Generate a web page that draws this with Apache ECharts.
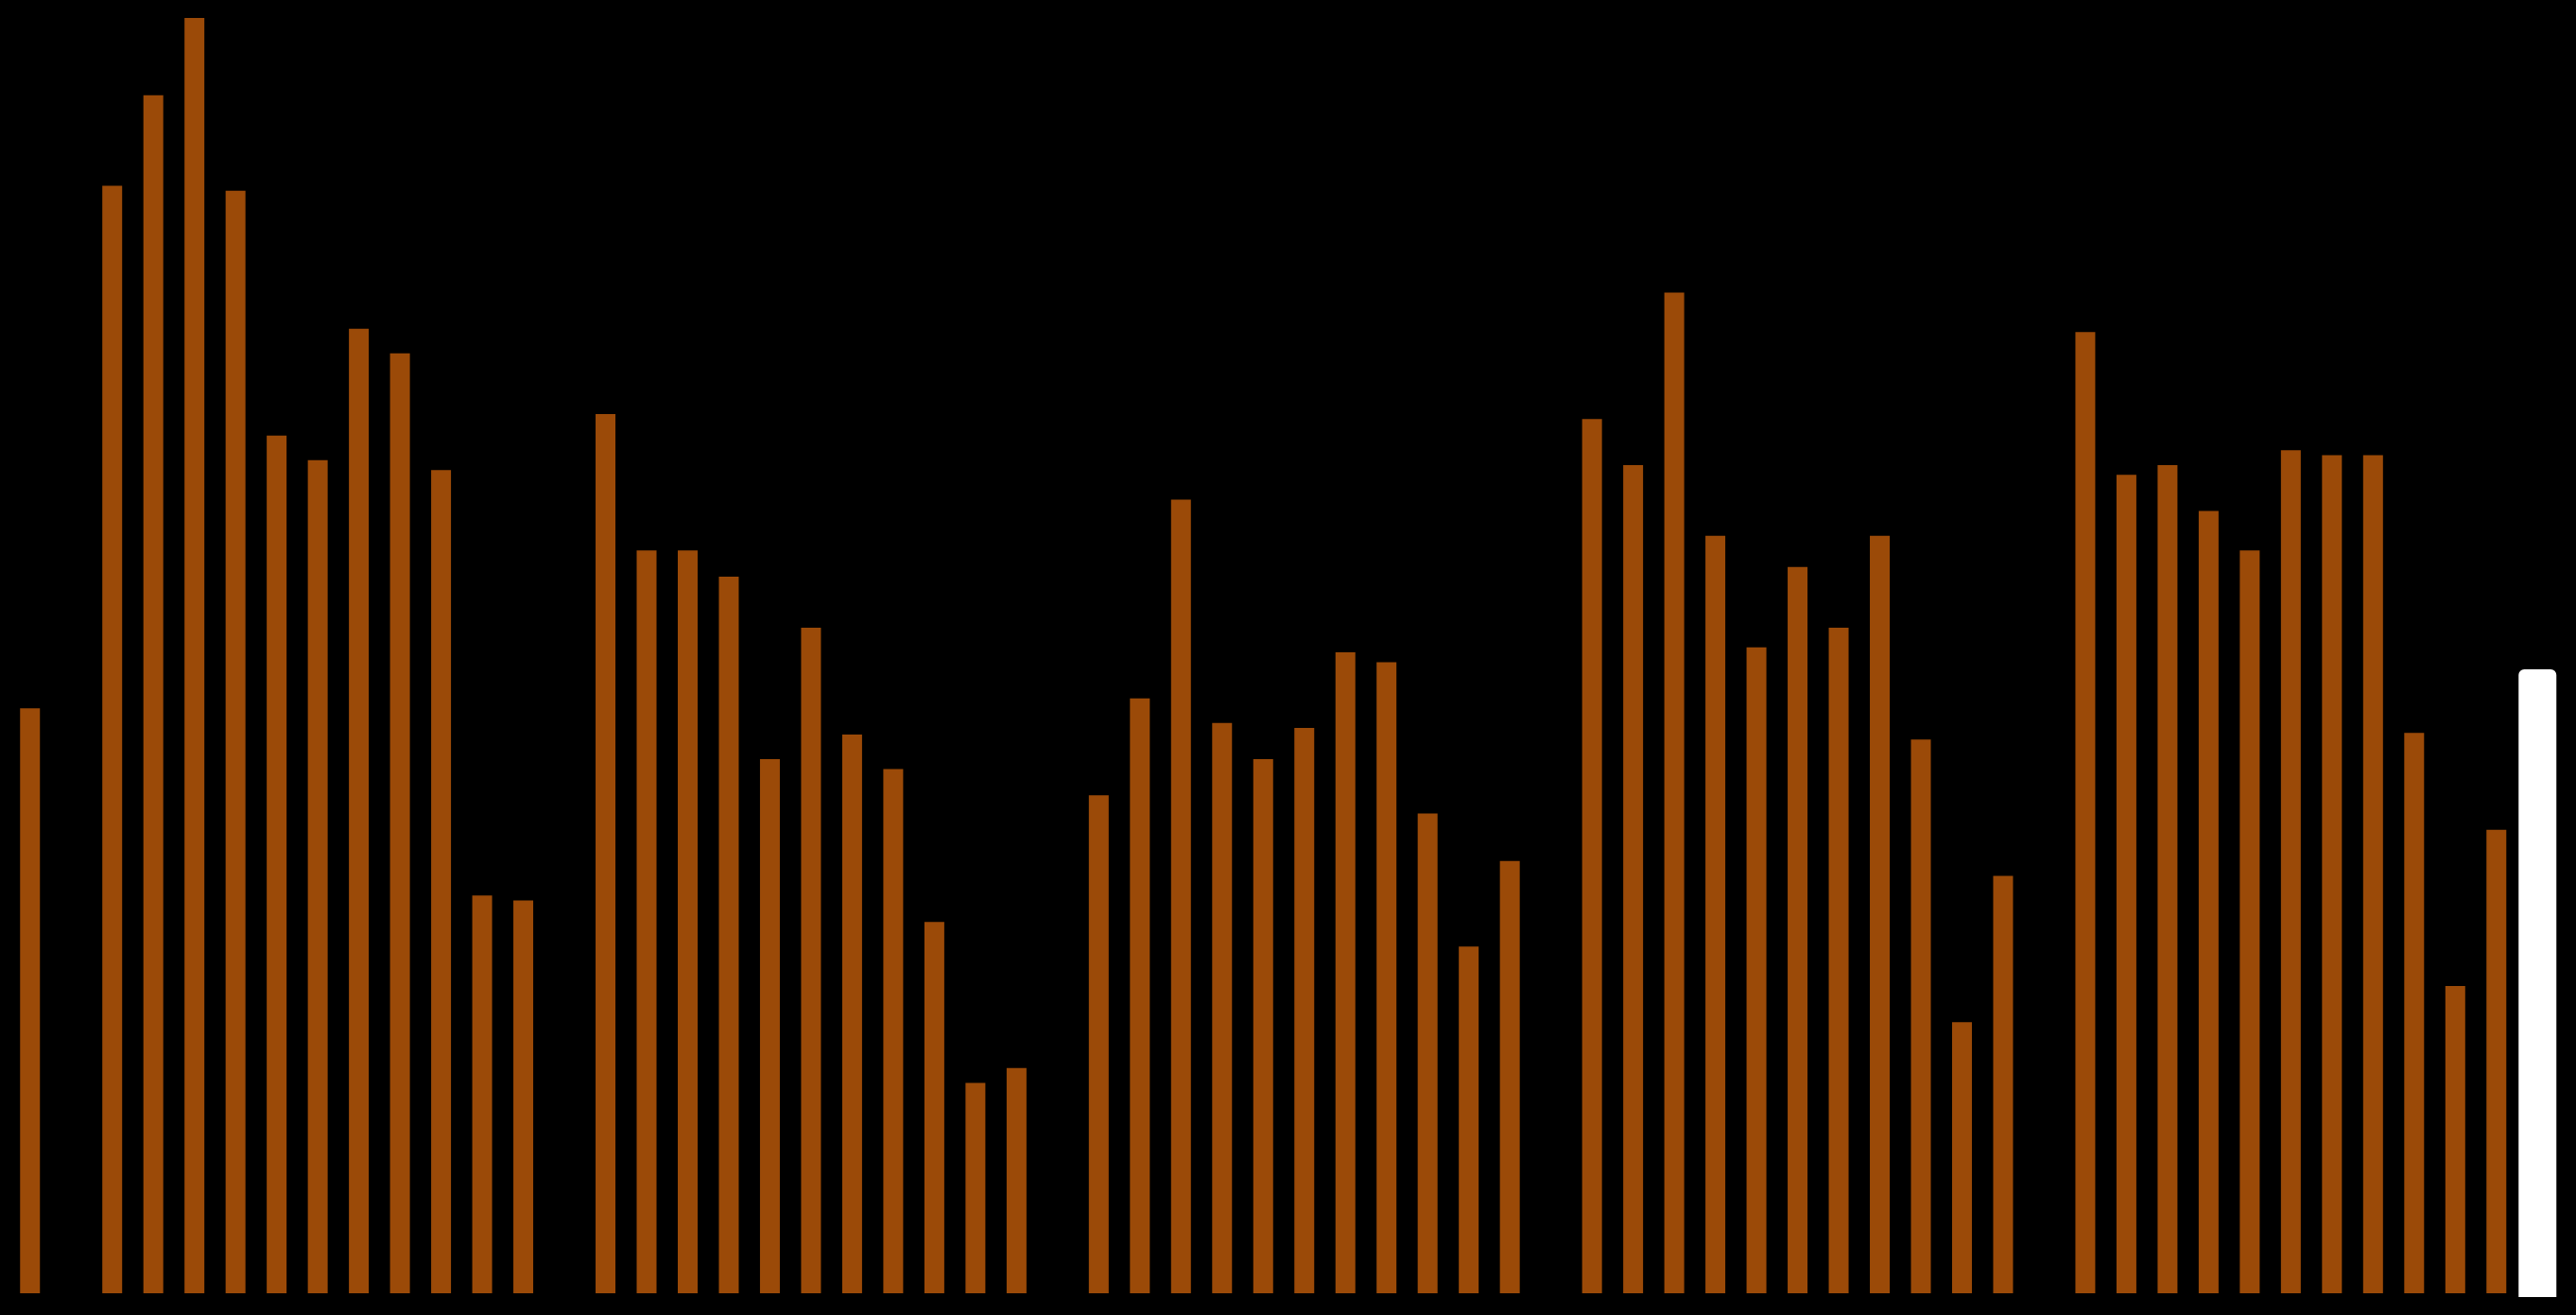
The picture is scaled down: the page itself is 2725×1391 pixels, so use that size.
<!DOCTYPE html>
<html><head><meta charset="utf-8">
<script src="https://cdn.jsdelivr.net/npm/echarts@6/dist/echarts.min.js"></script>
<style>html,body{margin:0;padding:0;background:#000;}#c{width:2725px;height:1391px;}</style>
</head><body><div id="c"></div>
<script>
const categories = Array.from({length: 62}, (_, i) => 'P' + (i + 1));
const mainValues = [
  356, null, 674, 729, 776, 671, 522, 507, 587, 572, 501, 242, 239,
  null, 535, 452, 452, 436, 325, 405, 340, 319, 226, 128, 137,
  null, 303, 362, 483, 347, 325, 344, 390, 384, 292, 211, 263,
  null, 532, 504, 609, 461, 393, 442, 405, 461, 337, 165, 254,
  null, 585, 498, 504, 476, 452, 513, 510, 510, 341, 187, 282, null
];
const highlightValues = categories.map((_, i) => i === 61 ? 382 : null);

const chart = echarts.init(document.getElementById('c'));
chart.setOption({
  backgroundColor: '#000000',
  animation: false,
  grid: [
    {left: 10, right: 19, top: 0, bottom: 23},
    {left: 10, right: 19, top: 0, bottom: 19}
  ],
  xAxis: [
    {type: 'category', data: categories, gridIndex: 0, show: false},
    {type: 'category', data: categories, gridIndex: 1, show: false}
  ],
  yAxis: [
    {type: 'value', gridIndex: 0, min: 0, max: 787, show: false},
    {type: 'value', gridIndex: 1, min: 0, max: 789.3, show: false}
  ],
  series: [
    {type: 'bar', data: mainValues, xAxisIndex: 0, yAxisIndex: 0, barWidth: 21,
     itemStyle: {color: '#9b4a08'}},
    {type: 'bar', data: highlightValues, xAxisIndex: 1, yAxisIndex: 1, barWidth: 40,
     itemStyle: {color: '#ffffff', borderRadius: [6, 6, 0, 0]}}
  ]
});
</script></body></html>
